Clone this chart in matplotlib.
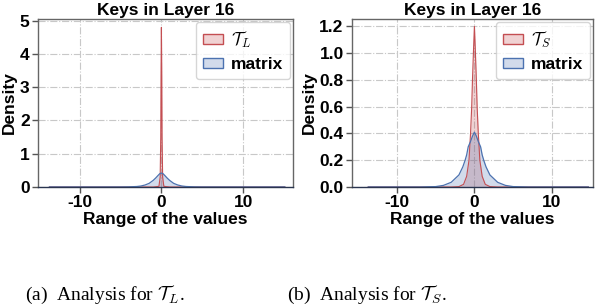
import matplotlib.pyplot as plt
from matplotlib.patches import Patch

plt.rcParams['font.family'] = ['Liberation Sans', 'DejaVu Sans']
plt.rcParams['font.weight'] = 'bold'
plt.rcParams['mathtext.fontset'] = 'cm'
plt.rcParams['axes.unicode_minus'] = False

RED = '#c44e52'
BLUE = '#4c72b0'

# ---- left panel (T_L) ----
mat_x_a = [-13.7, -8, -5, -4, -3, -2.5, -2, -1.5, -1, -0.7, -0.4, -0.2, 0,
           0.2, 0.4, 0.7, 1, 1.5, 2, 2.5, 3, 4, 5, 8, 15.1]
mat_y_a = [0, 0, 0.001, 0.004, 0.015, 0.03, 0.06, 0.11, 0.2, 0.27, 0.35, 0.40, 0.42,
           0.40, 0.35, 0.27, 0.2, 0.11, 0.06, 0.03, 0.015, 0.004, 0.001, 0, 0]
tl_x = [-13.7, -1, -0.3, -0.15, -0.08, -0.04, 0, 0.04, 0.08, 0.15, 0.3, 1, 15.1]
tl_y = [0, 0, 0.02, 0.3, 1.5, 3.5, 4.8, 3.5, 1.5, 0.3, 0.02, 0, 0]

# ---- right panel (T_S) ----
mat_x_b = [-13.7, -7, -5, -4, -3, -2, -1.5, -1.2, -1, -0.8, -0.5, -0.25, 0,
           0.25, 0.5, 0.8, 1, 1.2, 1.5, 2, 3, 4, 5, 7, 14.7]
mat_y_b = [0, 0, 0.003, 0.012, 0.035, 0.09, 0.15, 0.2, 0.24, 0.3, 0.34, 0.38, 0.41,
           0.38, 0.34, 0.3, 0.24, 0.2, 0.15, 0.09, 0.035, 0.012, 0.003, 0, 0]
ts_x = [-13.7, -3, -2, -1.4, -1, -0.7, -0.5, -0.35, -0.25, -0.1, 0,
        0.1, 0.25, 0.35, 0.5, 0.7, 1, 1.4, 2, 3, 14.7]
ts_y = [0, 0, 0.003, 0.02, 0.08, 0.2, 0.4, 0.6, 0.8, 1.05, 1.2,
        1.05, 0.8, 0.6, 0.4, 0.2, 0.08, 0.02, 0.003, 0, 0]

panels = [
    dict(pos=[0.0631, 0.3889, 0.4236, 0.549], mx=mat_x_a, my=mat_y_a, tx=tl_x, ty=tl_y,
         lab=r'$\mathcal{T}_L$', ylim=(0, 5.05), yticks=[0, 1, 2, 3, 4, 5],
         fmt='%d', xlim=(-15.1, 16.1)),
    dict(pos=[0.5847, 0.3889, 0.4003, 0.549], mx=mat_x_b, my=mat_y_b, tx=ts_x, ty=ts_y,
         lab=r'$\mathcal{T}_S$', ylim=(0, 1.255), yticks=[0, 0.2, 0.4, 0.6, 0.8, 1.0, 1.2],
         fmt='%.1f', xlim=(-15.8, 15.3)),
]

fig = plt.figure(figsize=(6.02, 3.06), dpi=100)

for p in panels:
    ax = fig.add_axes(p['pos'])
    ax.fill_between(p['tx'], p['ty'], color=RED, alpha=0.25, lw=0)
    ax.plot(p['tx'], p['ty'], color=RED, lw=0.8)
    ax.fill_between(p['mx'], p['my'], color=BLUE, alpha=0.25, lw=0)
    ax.plot(p['mx'], p['my'], color=BLUE, lw=0.9)

    ax.set_xlim(*p['xlim'])
    ax.set_ylim(*p['ylim'])
    ax.set_xticks([-10, 0, 10])
    ax.set_yticks(p['yticks'])
    ax.set_yticklabels([p['fmt'] % v for v in p['yticks']])
    ax.grid(True, linestyle='-.', color='#c8c8c8', lw=0.8)
    ax.set_axisbelow(True)
    ax.tick_params(labelsize=12.5, length=4, width=1, color='#555555', pad=2)
    for s in ax.spines.values():
        s.set_color('#666666')
        s.set_linewidth(1)
    ax.spines['bottom'].set_color('#2a3550')

    ax.set_title('Keys in Layer 16', fontsize=12.5, fontweight='bold', pad=3)
    ax.set_xlabel('Range of the values', fontsize=12.5, fontweight='bold', labelpad=1)
    ax.set_ylabel('Density', fontsize=12.5, fontweight='bold', labelpad=2)

    handles = [Patch(facecolor=(0.769, 0.306, 0.322, 0.25), edgecolor=RED, lw=1.0),
               Patch(facecolor=(0.298, 0.447, 0.690, 0.25), edgecolor=BLUE, lw=1.0)]
    ax.legend(handles, [p['lab'], 'matrix'], loc='upper right', fontsize=12.5,
              handlelength=1.15, handleheight=0.5, handletextpad=0.45,
              borderaxespad=0.15, borderpad=0.42, labelspacing=0.4,
              edgecolor='#cccccc', fancybox=True)

fig.text(25 / 602, 1 - 300 / 306, r'(a)  Analysis for $\mathcal{T}_L$.',
         family=['Liberation Serif'], fontweight='normal', fontsize=14, va='baseline')
fig.text(287 / 602, 1 - 300 / 306, r'(b)  Analysis for $\mathcal{T}_S$.',
         family=['Liberation Serif'], fontweight='normal', fontsize=14, va='baseline')

fig.savefig('out.png', dpi=100)
